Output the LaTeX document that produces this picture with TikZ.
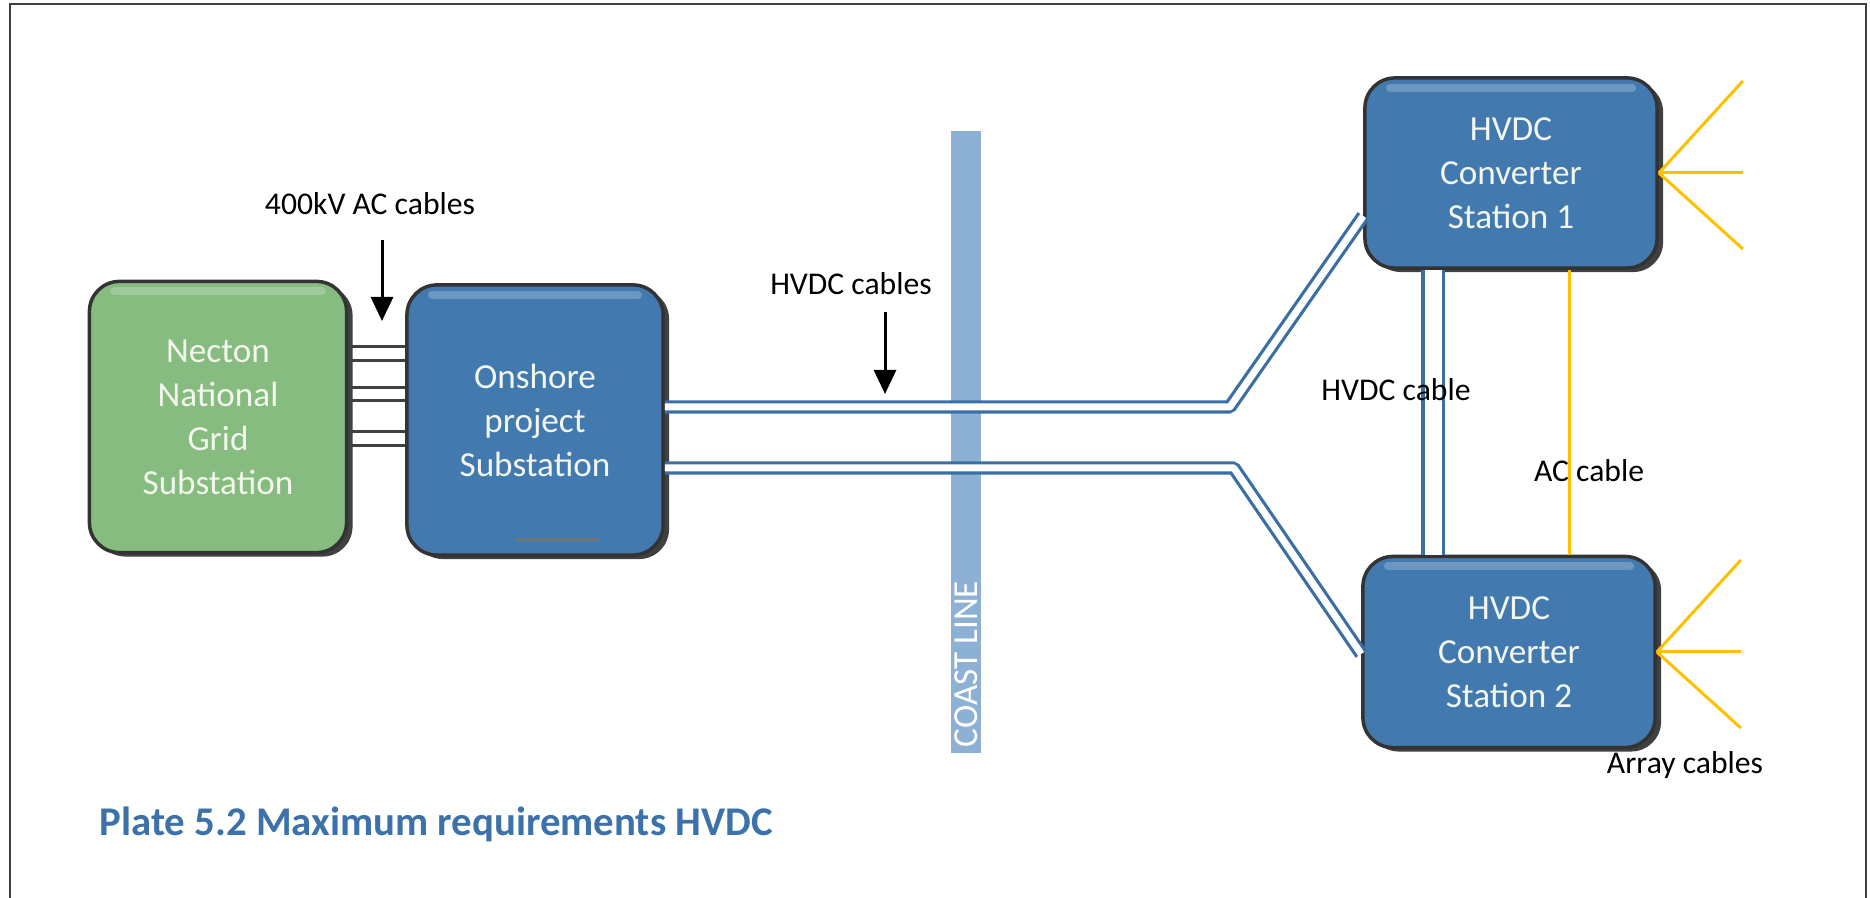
\documentclass[tikz,border=0pt]{standalone}
\usepackage{fontspec}
\setmainfont{Carlito}
\usetikzlibrary{arrows.meta,calc,shadows}

\definecolor{StationBlue}{RGB}{66,122,176}
\definecolor{GridGreen}{RGB}{134,188,128}
\definecolor{CableBlue}{RGB}{59,110,165}
\definecolor{ArrayYellow}{RGB}{255,192,0}
\definecolor{CoastBlue}{RGB}{141,176,213}
\definecolor{TitleBlue}{RGB}{60,113,169}
\definecolor{BoxText}{RGB}{242,246,236}

\tikzset{
    station/.style={rounded corners=0.3cm, draw=black!80, line width=0.035cm,
        fill=StationBlue, text=BoxText, align=center, inner sep=0pt,
        font=\fontsize{10}{12.5}\selectfont,
        drop shadow={shadow xshift=0.06cm, shadow yshift=-0.04cm, opacity=0.75, fill=black},
        path picture={\draw[white, opacity=0.22, line width=0.08cm, line cap=round]
            ([xshift=0.25cm,yshift=-0.1cm]path picture bounding box.north west) --
            ([xshift=-0.25cm,yshift=-0.1cm]path picture bounding box.north east);}},
    gridstation/.style={station, fill=GridGreen},
    cablelabel/.style={font=\fontsize{9}{11}\selectfont, inner sep=0pt},
    pointer/.style={-{Triangle[width=0.22cm,length=0.24cm]}, line width=0.03cm},
    hvdc/.style={draw=CableBlue, line width=0.032cm, double=white, double distance=0.07cm},
    accable/.style={draw=black!75, line width=0.03cm},
    arraycable/.style={draw=ArrayYellow, line width=0.03cm},
}

% three array cables fanning out of a converter station
\newcommand\ArrayFan[1]{%
    \foreach \dy in {-92,0,76}
        \draw[arraycable] (#1.east) -- ++(84,\dy);
}

\begin{document}
\begin{tikzpicture}[x=0.01cm, y=-0.01cm]
    \useasboundingbox (0,0) rectangle (1870,898);
    \draw[black!75, line width=0.02cm] (10,898) -- (10,4) -- (1866,4) -- (1866,898);

    % stations
    \node[gridstation, minimum width=2.57cm, minimum height=2.71cm] (grid) at (218,417)
        {Necton\\National\\Grid\\Substation};
    \node[station, minimum width=2.56cm, minimum height=2.70cm] (onshore) at (535,420)
        {Onshore\\project\\Substation};
    \draw[black!55, line width=0.03cm] ($(onshore.south)+(-20,-17)$) -- ++(85,0);
    \node[station, minimum width=2.92cm, minimum height=1.90cm] (conv1) at (1511,173)
        {HVDC\\Converter\\Station 1};
    \node[station, minimum width=2.92cm, minimum height=1.91cm] (conv2) at (1509,652)
        {HVDC\\Converter\\Station 2};

    % coast line
    \node[fill=CoastBlue, minimum width=0.3cm, minimum height=6.21cm, inner sep=0pt] (coast) at (966,442) {};
    \node[rotate=90, text=white, font=\fontsize{10}{12}\selectfont, inner sep=0pt] (coastname) at (966,664) {COAST LINE};

    % 400kV AC
    \foreach \dy in {-70,-56,-29,-16,15,29}
        \draw[accable] ($(grid.east)+(0,\dy)$) coordinate (a) -- (a -| onshore.west);

    % HVDC export
    \draw[hvdc, line join=bevel] ($(onshore.east)+(0,-13)$) -- ++(565,0) -- ($(conv1.west)+(0,43)$);
    \draw[hvdc, line join=bevel] ($(onshore.east)+(0,48)$) -- ++(569,0) -- ($(conv2.west)+(0,2)$);
    \draw[hvdc, double distance=0.17cm] ($(conv1.south)+(-78,0)$) -- ($(conv2.north)+(-76,0)$);

    % offshore AC
    \draw[arraycable] ($(conv1.south)+(58,0)$) -- ($(conv2.north)+(60,0)$);
    \ArrayFan{conv1}
    \ArrayFan{conv2}

    % labels
    \node[cablelabel] (aclabel) at (370,204) {400kV AC cables};
    \coordinate (ACArrowStart) at (382,240);
    \coordinate (ACArrowTip) at (382,321);
    \draw[pointer] (ACArrowStart) -- (ACArrowTip);
    \node[cablelabel] (hvdclabel) at (851,284) {HVDC cables};
    \coordinate (HVDCArrowStart) at (885,312);
    \coordinate (HVDCArrowTip) at (885,394);
    \draw[pointer] (HVDCArrowStart) -- (HVDCArrowTip);
    \node[cablelabel] (linklabel) at (1396,390) {HVDC cable};
    \node[cablelabel] (aclinklabel) at (1589,471) {AC cable};
    \node[cablelabel] (arraylabel) at (1685,765) {Array cables};

    \node[anchor=base west, inner sep=0pt, text=TitleBlue,
        font=\fontsize{11.6}{14}\selectfont\bfseries] (title) at (99,836)
        {Plate 5.2 Maximum requirements HVDC};
\end{tikzpicture}
\end{document}
